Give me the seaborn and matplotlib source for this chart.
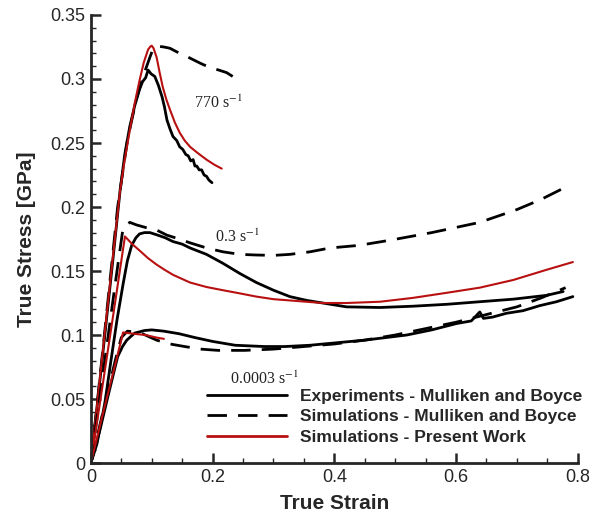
import numpy as np
import pandas as pd
import matplotlib
matplotlib.use("Agg")
import matplotlib.pyplot as plt
import seaborn as sns
from matplotlib.ticker import MultipleLocator, FuncFormatter
from matplotlib.lines import Line2D

# ---------------- data ----------------
# 770 s^-1
exp770_x = [0.0, 0.012, 0.024, 0.036, 0.048, 0.056, 0.064, 0.072, 0.080, 0.085, 0.090, 0.094, 0.099, 0.105, 0.111, 0.117, 0.121, 0.125, 0.130, 0.135, 0.141, 0.146, 0.151, 0.156, 0.160, 0.164, 0.168, 0.171, 0.174, 0.178, 0.182, 0.186, 0.190, 0.194, 0.199]
exp770_y = [0.0, 0.052, 0.105, 0.158, 0.213, 0.242, 0.263, 0.279, 0.292, 0.298, 0.301, 0.307, 0.304, 0.302, 0.295, 0.286, 0.278, 0.268, 0.261, 0.255, 0.252, 0.247, 0.245, 0.241, 0.240, 0.236, 0.237, 0.232, 0.232, 0.229, 0.229, 0.225, 0.224, 0.221, 0.219]
simMB770_x = [0.0, 0.02, 0.044, 0.06, 0.075, 0.088, 0.097, 0.101, 0.105, 0.112, 0.120, 0.130, 0.138, 0.146, 0.160, 0.179, 0.195, 0.210, 0.223, 0.233]
simMB770_y = [0.0, 0.09, 0.200, 0.252, 0.285, 0.305, 0.317, 0.322, 0.325, 0.3255, 0.325, 0.324, 0.322, 0.320, 0.317, 0.3125, 0.309, 0.307, 0.305, 0.302]
simPW770_x = [0.0, 0.024, 0.048, 0.056, 0.064, 0.072, 0.080, 0.087, 0.094, 0.098, 0.100, 0.103, 0.108, 0.113, 0.118, 0.124, 0.130, 0.138, 0.146, 0.154, 0.163, 0.176, 0.190, 0.203, 0.215]
simPW770_y = [0.0, 0.107, 0.213, 0.238, 0.260, 0.281, 0.299, 0.313, 0.323, 0.3255, 0.326, 0.324, 0.317, 0.305, 0.294, 0.284, 0.276, 0.266, 0.258, 0.252, 0.247, 0.242, 0.237, 0.233, 0.230]

# 0.3 s^-1
exp03_x = [0.0, 0.01, 0.023, 0.033, 0.043, 0.053, 0.060, 0.067, 0.074, 0.080, 0.088, 0.097, 0.110, 0.122, 0.135, 0.150, 0.163, 0.190, 0.217, 0.245, 0.272, 0.300, 0.327, 0.355, 0.381, 0.420, 0.475, 0.529, 0.585, 0.639, 0.694, 0.749, 0.776]
exp03_y = [0.0, 0.015, 0.047, 0.080, 0.112, 0.140, 0.158, 0.170, 0.176, 0.179, 0.180, 0.180, 0.178, 0.176, 0.173, 0.171, 0.168, 0.163, 0.156, 0.148, 0.141, 0.135, 0.130, 0.127, 0.125, 0.122, 0.1215, 0.1225, 0.124, 0.126, 0.128, 0.131, 0.134]
simMB03_x = [0.0, 0.02, 0.04, 0.053, 0.064, 0.075, 0.090, 0.108, 0.125, 0.145, 0.163, 0.190, 0.217, 0.245, 0.272, 0.300, 0.327, 0.360, 0.393, 0.44, 0.491, 0.56, 0.639, 0.70, 0.740, 0.782]
simMB03_y = [0.0, 0.07, 0.14, 0.184, 0.188, 0.186, 0.184, 0.182, 0.178, 0.175, 0.172, 0.168, 0.165, 0.163, 0.1625, 0.1622, 0.163, 0.165, 0.168, 0.170, 0.174, 0.180, 0.188, 0.198, 0.206, 0.216]
simPW03_x = [0.0, 0.02, 0.04, 0.056, 0.068, 0.080, 0.094, 0.108, 0.121, 0.135, 0.149, 0.163, 0.190, 0.217, 0.245, 0.272, 0.300, 0.327, 0.354, 0.381, 0.420, 0.475, 0.529, 0.585, 0.639, 0.694, 0.749, 0.792]
simPW03_y = [0.0, 0.063, 0.126, 0.177, 0.171, 0.166, 0.160, 0.155, 0.151, 0.147, 0.144, 0.141, 0.1375, 0.135, 0.1325, 0.130, 0.128, 0.127, 0.126, 0.125, 0.125, 0.126, 0.129, 0.133, 0.137, 0.143, 0.151, 0.157]

# 0.0003 s^-1
exp0003_x = [0.0, 0.007, 0.015, 0.028, 0.044, 0.052, 0.059, 0.066, 0.072, 0.080, 0.088, 0.10, 0.12, 0.145, 0.171, 0.2, 0.237, 0.285, 0.319, 0.36, 0.405, 0.45, 0.519, 0.56, 0.601, 0.625, 0.633, 0.639, 0.645, 0.66, 0.683, 0.71, 0.738, 0.765, 0.792]
exp0003_y = [0.0, 0.012, 0.026, 0.052, 0.083, 0.091, 0.096, 0.099, 0.1015, 0.1025, 0.1035, 0.104, 0.103, 0.101, 0.098, 0.095, 0.092, 0.091, 0.091, 0.092, 0.094, 0.096, 0.100, 0.104, 0.109, 0.111, 0.115, 0.118, 0.113, 0.114, 0.117, 0.119, 0.123, 0.126, 0.130]
simMB0003_x = [0.0, 0.02, 0.04, 0.05, 0.06, 0.08, 0.108, 0.13, 0.154, 0.18, 0.209, 0.253, 0.3, 0.35, 0.4, 0.45, 0.5, 0.55, 0.6, 0.65, 0.7, 0.74, 0.78]
simMB0003_y = [0.0, 0.04, 0.08, 0.098, 0.103, 0.102, 0.096, 0.093, 0.091, 0.089, 0.088, 0.088, 0.089, 0.091, 0.093, 0.096, 0.100, 0.105, 0.110, 0.116, 0.122, 0.129, 0.137]
simPW0003_x = [0.0, 0.02, 0.04, 0.053, 0.07, 0.09, 0.108, 0.12]
simPW0003_y = [0.0, 0.039, 0.077, 0.102, 0.101, 0.100, 0.098, 0.097]

legend_labels = ["Experiments - Mulliken and Boyce",
                 "Simulations - Mulliken and Boyce",
                 "Simulations - Present Work"]
rate_labels = ["770 s$^{-1}$", "0.3 s$^{-1}$", "0.0003 s$^{-1}$"]
x_ticks = [0, 0.2, 0.4, 0.6, 0.8]
y_ticks = [0, 0.05, 0.1, 0.15, 0.2, 0.25, 0.3, 0.35]

# ---------------- style ----------------
sns.set_theme(style="ticks")
plt.rcParams["font.family"] = ["Liberation Sans", "DejaVu Sans"]
plt.rcParams["mathtext.fontset"] = "stix"

RED = "#b81010"
BLACK = "#000000"

fig = plt.figure(figsize=(6.14, 5.17), dpi=100)
ax = fig.add_axes([0.148, 0.1044, 0.793, 0.8666])

curves = [
    (exp770_x, exp770_y, BLACK, "-", 2.0),
    (simMB770_x, simMB770_y, BLACK, "--", 2.0),
    (simPW770_x, simPW770_y, RED, "-", 1.5),
    (exp03_x, exp03_y, BLACK, "-", 2.0),
    (simMB03_x, simMB03_y, BLACK, "--", 2.0),
    (simPW03_x, simPW03_y, RED, "-", 1.5),
    (exp0003_x, exp0003_y, BLACK, "-", 2.0),
    (simMB0003_x, simMB0003_y, BLACK, "--", 2.0),
    (simPW0003_x, simPW0003_y, RED, "-", 1.5),
]
for xs, ys, c, ls, lw in curves:
    df = pd.DataFrame({"strain": xs, "stress": ys})
    sns.lineplot(data=df, x="strain", y="stress", ax=ax, color=c,
                 linewidth=lw, sort=False, estimator=None, legend=False)
    l = ax.lines[-1]
    l.set_solid_joinstyle("round")
    if ls == "--":
        l.set_dashes((7, 4))

ax.set_xlim(0, 0.8)
ax.set_ylim(0, 0.35)
ax.set_xticks(x_ticks)
ax.set_yticks(y_ticks)
ax.xaxis.set_minor_locator(MultipleLocator(0.05))
ax.yaxis.set_minor_locator(MultipleLocator(0.01))
fmt = FuncFormatter(lambda v, p: ("%g" % round(v, 4)))
ax.xaxis.set_major_formatter(fmt)
ax.yaxis.set_major_formatter(fmt)

for s in ["top", "right"]:
    ax.spines[s].set_visible(False)
for s in ["left", "bottom"]:
    ax.spines[s].set_linewidth(2.0)
ax.tick_params(which="major", direction="in", length=7, width=1.8, labelsize=13, pad=4)
ax.tick_params(which="minor", direction="in", length=3.5, width=1.0)

ax.set_xlabel("True Strain", fontsize=15, fontweight="bold", labelpad=6)
ax.set_ylabel("True Stress [GPa]", fontsize=15, fontweight="bold", labelpad=10)

# rate annotations
tkw = dict(fontsize=11.5, family=["Liberation Serif", "DejaVu Serif"], color="#222222")
ax.text(0.170, 0.281, rate_labels[0], ha="left", va="center", **tkw)
ax.text(0.204, 0.176, rate_labels[1], ha="left", va="center", **tkw)
ax.text(0.229, 0.065, rate_labels[2], ha="left", va="center", **tkw)

handles = [Line2D([], [], color=BLACK, lw=2.0),
           Line2D([], [], color=BLACK, lw=2.0, dashes=(7, 4)),
           Line2D([], [], color=RED, lw=2.0)]
leg = ax.legend(handles, legend_labels, loc="center left",
                bbox_to_anchor=(0.238, 0.103), frameon=False,
                prop={"weight": "bold", "size": 12.5}, handlelength=4.6,
                handletextpad=0.75, labelspacing=0.3, borderaxespad=0,
                borderpad=0)

fig.savefig("out.png", dpi=100)
